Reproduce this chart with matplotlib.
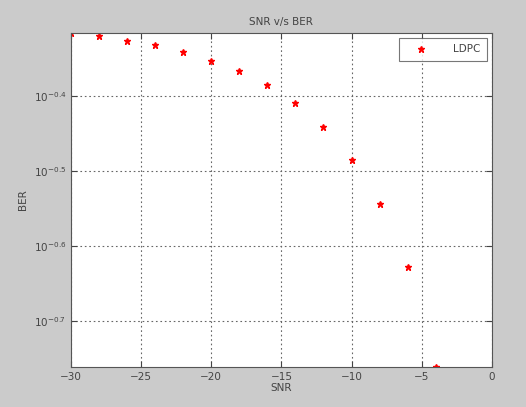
import matplotlib
matplotlib.use("Agg")
import matplotlib.pyplot as plt
from matplotlib.ticker import FixedLocator, FixedFormatter, NullLocator

# data (BER on log axis)
snr = [-30, -28, -26, -24, -22, -20, -18, -16, -14, -12, -10, -8, -6, -4]
ber = [0.483, 0.4786, 0.471, 0.4656, 0.456, 0.4436, 0.4295, 0.412,
       0.390, 0.362, 0.327, 0.2858, 0.236, 0.1734]

x_ticks = [-30, -25, -20, -15, -10, -5, 0]
y_exps = [-0.7, -0.6, -0.5, -0.4]
y_labels = [r"$10^{%s}$" % e for e in y_exps]

fig = plt.figure(figsize=(5.26, 4.07), dpi=100, facecolor="#cbcbcb")
ax = fig.add_axes([0.135, 0.0983, 0.800, 0.8206])

ax.semilogy(snr, ber, linestyle="none", marker="*", color="red",
            markersize=4.5, label="LDPC")

ax.set_xlim(-30, 0)
ax.set_ylim(min(ber), max(ber))
ax.set_xticks(x_ticks)
ax.yaxis.set_major_locator(FixedLocator([10 ** e for e in y_exps]))
ax.yaxis.set_major_formatter(FixedFormatter(y_labels))
ax.yaxis.set_minor_locator(NullLocator())

ax.grid(True, linestyle=(0, (1.5, 2.5)), color="#666666", linewidth=0.8)
ax.tick_params(direction="in", top=True, right=True, labelsize=7.5,
               colors="#444444", length=4)
for s in ax.spines.values():
    s.set_color("#555555")

ax.set_title("SNR v/s BER", fontsize=7.5, color="#444444", pad=6)
ax.set_xlabel("SNR", fontsize=7.5, color="#444444", labelpad=1)
ax.set_ylabel("BER", fontsize=7.5, color="#444444", labelpad=4)

leg = ax.legend(loc="upper right", fontsize=7.5, fancybox=False,
                borderpad=0.6, handlelength=3.0, handletextpad=1.6,
                labelcolor="#444444")
leg.get_frame().set_edgecolor("#555555")
leg.get_frame().set_linewidth(0.8)

fig.savefig("out.png", dpi=100, facecolor=fig.get_facecolor())
